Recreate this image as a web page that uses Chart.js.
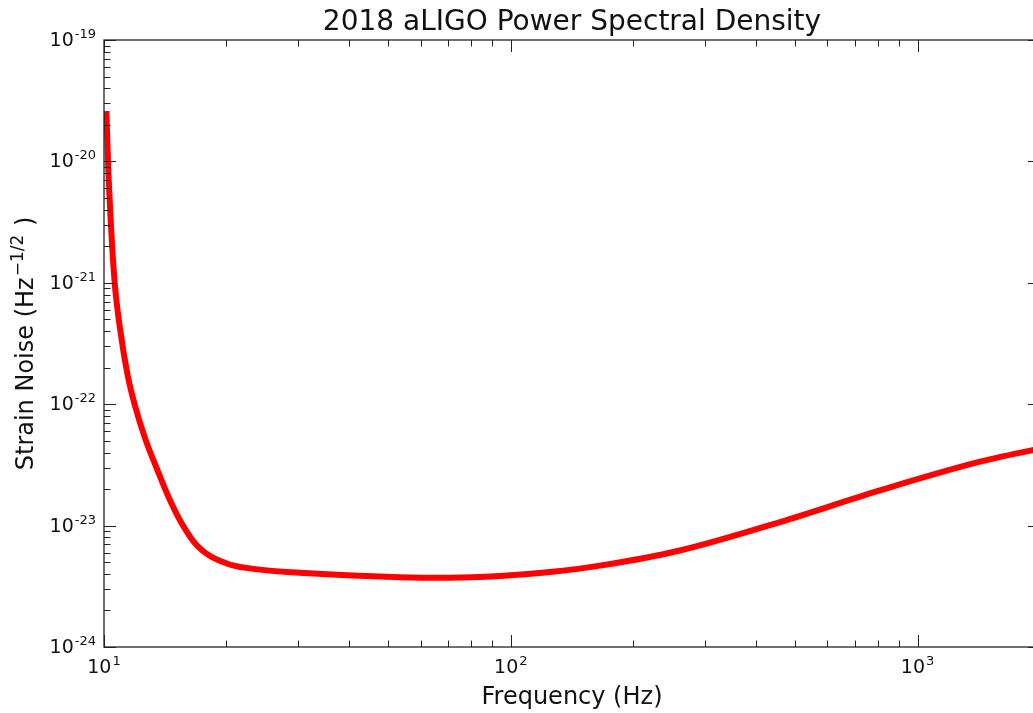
<!DOCTYPE html>
<html><head><meta charset="utf-8">
<script src="https://cdn.jsdelivr.net/npm/chart.js@4"></script>
<style>html,body{margin:0;padding:0;overflow:hidden;background:#fff;width:1033px;height:713px}canvas{display:block}</style>
</head><body>
<canvas id="c" width="1045" height="713" style="width:1045px;height:713px"></canvas>
<script>
const titleText = '2018 aLIGO Power Spectral Density';
const xLabelText = 'Frequency (Hz)';
const yLabelMain = 'Strain Noise (Hz';
const yLabelSup = '\u22121/2';
const yLabelEnd = ' )';

const frequencyHz = [10.137, 10.229, 10.387, 10.624, 10.992, 11.435, 11.966, 12.667, 13.478, 14.421, 15.48, 17.00, 20.03, 22.81, 30.29, 53.3, 70.8, 94.0, 124.8, 165.5, 260.6, 459, 808, 1424, 1905, 2000];
const strainNoise = [2.60e-20, 1.0e-20, 3.28e-21, 1.0e-21, 3.84e-22, 1.73e-22, 9.25e-23, 5.04e-23, 2.96e-23, 1.71e-23, 1.06e-23, 6.74e-24, 4.88e-24, 4.44e-24, 4.09e-24, 3.76e-24, 3.72e-24, 3.84e-24, 4.14e-24, 4.68e-24, 6.24e-24, 1.07e-23, 1.95e-23, 3.36e-23, 4.17e-23, 4.30e-23];

const xMin = 10, xMax = 2000;
const yMin = 1e-24, yMax = 1e-19;
const xTickExponents = [1, 2, 3];
const yTickExponents = [-24, -23, -22, -21, -20, -19];

const FONT = '"DejaVu Sans", sans-serif';

function drawPow(ctx, exp, x, y, align) {
  const base = '10', sup = String(exp);
  ctx.font = '19px ' + FONT;
  const wb = ctx.measureText(base).width;
  ctx.font = '13px ' + FONT;
  const ws = ctx.measureText(sup).width;
  const total = wb + ws + 1;
  let x0 = align === 'right' ? x - total : x - total / 2;
  ctx.textAlign = 'left';
  ctx.textBaseline = 'alphabetic';
  ctx.font = '19px ' + FONT;
  ctx.fillText(base, x0, y);
  ctx.font = '13px ' + FONT;
  ctx.fillText(sup, x0 + wb + 1, y - 8);
}

const decor = {
  id: 'decor',
  afterDraw(chart) {
    const ctx = chart.ctx, a = chart.chartArea, xs = chart.scales.x, ys = chart.scales.y;
    ctx.save();
    ctx.strokeStyle = '#222';
    ctx.lineWidth = 1;
    const MAJ = 12, MIN = 6.5;
    const seg = (x1, y1, x2, y2) => { ctx.beginPath(); ctx.moveTo(x1, y1); ctx.lineTo(x2, y2); ctx.stroke(); };
    for (let e = 1; e <= 3; e++) {
      for (let m = 1; m <= 9; m++) {
        const v = m * Math.pow(10, e);
        if (v < xMin * 0.999 || v > xMax * 1.001) continue;
        const px = Math.round(xs.getPixelForValue(v)) + 0.5;
        const len = m === 1 ? MAJ : MIN;
        seg(px, a.bottom, px, a.bottom - len);
        seg(px, a.top, px, a.top + len);
      }
    }
    for (let e = -24; e <= -19; e++) {
      for (let m = 1; m <= 9; m++) {
        const v = m * Math.pow(10, e);
        if (v < yMin * 0.999 || v > yMax * 1.001) continue;
        const py = Math.round(ys.getPixelForValue(v)) + 0.5;
        const len = m === 1 ? MAJ : MIN;
        seg(a.left, py, a.left + len, py);
        seg(a.right, py, a.right - len, py);
      }
    }
    ctx.lineWidth = 1.3;
    ctx.strokeRect(a.left, a.top, a.right - a.left, a.bottom - a.top);

    ctx.fillStyle = '#111';
    xTickExponents.forEach(e => {
      const px = xs.getPixelForValue(Math.pow(10, e));
      drawPow(ctx, e, px, a.bottom + 26, 'center');
    });
    yTickExponents.forEach(e => {
      const py = ys.getPixelForValue(Math.pow(10, e));
      drawPow(ctx, e, a.left - 8, py + 6, 'right');
    });
    ctx.textAlign = 'center';
    ctx.textBaseline = 'alphabetic';
    ctx.font = '28px ' + FONT;
    ctx.fillText(titleText, (a.left + a.right) / 2, 30);
    ctx.font = '24px ' + FONT;
    ctx.fillText(xLabelText, (a.left + a.right) / 2, 704);
    ctx.save();
    ctx.translate(33, (a.top + a.bottom) / 2);
    ctx.rotate(-Math.PI / 2);
    ctx.textAlign = 'left';
    ctx.font = '24px ' + FONT;
    const w1 = ctx.measureText(yLabelMain).width;
    const w3 = ctx.measureText(yLabelEnd).width;
    ctx.font = '17px ' + FONT;
    const w2 = ctx.measureText(yLabelSup).width;
    let x0 = -(w1 + w2 + w3 + 2) / 2;
    ctx.font = '24px ' + FONT;
    ctx.fillText(yLabelMain, x0, 0);
    ctx.font = '17px ' + FONT;
    ctx.fillText(yLabelSup, x0 + w1 + 1, -10);
    ctx.font = '24px ' + FONT;
    ctx.fillText(yLabelEnd, x0 + w1 + w2 + 2, 0);
    ctx.restore();
    ctx.restore();
  }
};

new Chart(document.getElementById('c'), {
  type: 'line',
  data: {
    datasets: [{
      data: frequencyHz.map((f, i) => ({ x: f, y: strainNoise[i] })),
      borderColor: '#ff0000',
      borderWidth: 6,
      pointRadius: 0,
      fill: false,
      cubicInterpolationMode: 'monotone',
      borderCapStyle: 'butt',
      borderJoinStyle: 'round'
    }]
  },
  options: {
    responsive: false,
    animation: false,
    devicePixelRatio: 1,
    layout: { padding: { left: 104, top: 40, right: 5, bottom: 66 } },
    plugins: { legend: { display: false }, tooltip: { enabled: false }, title: { display: false } },
    scales: {
      x: {
        type: 'logarithmic', min: xMin, max: xMax,
        grid: { display: false, drawTicks: false },
        border: { display: false },
        ticks: { display: false }
      },
      y: {
        type: 'logarithmic', min: yMin, max: yMax,
        grid: { display: false, drawTicks: false },
        border: { display: false },
        ticks: { display: false }
      }
    }
  },
  plugins: [decor]
});
</script>
</body></html>
